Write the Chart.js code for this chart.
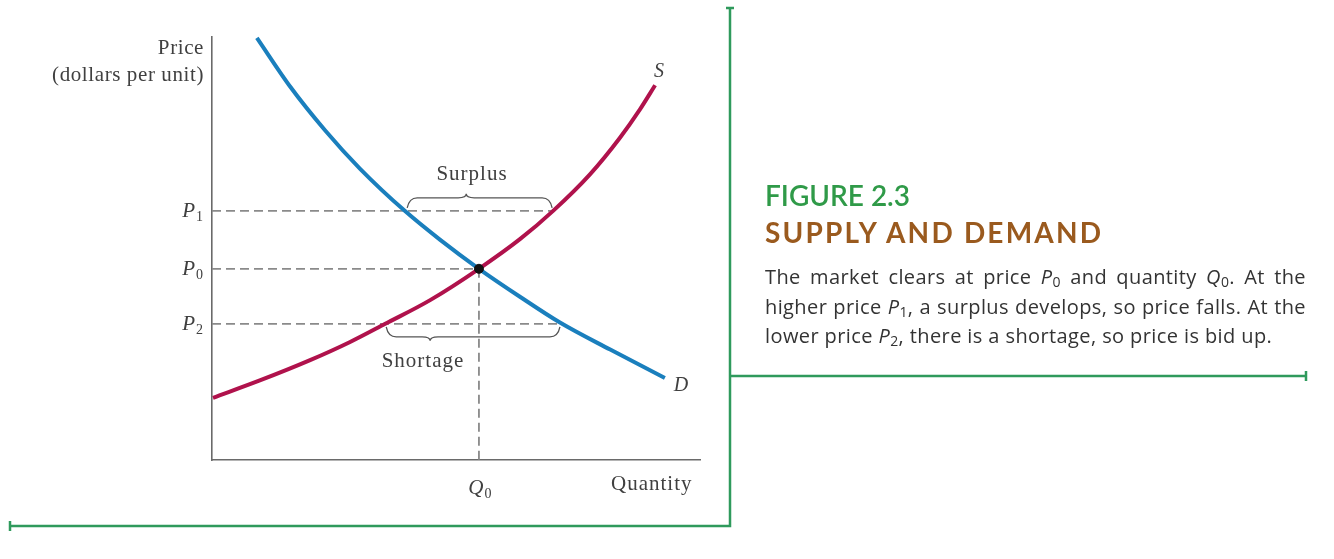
<!DOCTYPE html>
<html lang="en">
<head>
    <meta charset="UTF-8">
    <title>Supply and Demand</title>
    <script src="https://cdn.jsdelivr.net/npm/chart.js@4.4.1/dist/chart.umd.min.js"></script>
    <style>
        body { margin: 0; background: #fff; }
        .wrap { position: relative; width: 1334px; height: 559px; }
        .caption { position: absolute; left: 765px; top: 180px; width: 541px; font-family: Lato, "Open Sans", sans-serif; }
        .fig { color: #2f9a48; font-size: 28px; font-weight: 600; line-height: 31px; }
        .ttl { color: #9a5a1e; font-size: 28px; font-weight: 700; line-height: 31px; letter-spacing: 2.2px; margin-top: 6px; }
        .body { margin-top: 14px; color: #333; font-family: "Open Sans", sans-serif; font-size: 20px; letter-spacing: 0.4px; line-height: 29.5px; }
        .body div { text-align: justify; text-align-last: justify; white-space: nowrap; }
        .body div.last { text-align-last: left; }
        .body i { font-style: italic; }
        .body sub { font-size: 14px; font-style: normal; vertical-align: -3px; line-height: 0; }
    </style>
</head>
<body>
<div class="wrap">
    <canvas id="myChart"></canvas>
    <div class="caption">
        <div class="fig">FIGURE 2.3</div>
        <div class="ttl">SUPPLY AND DEMAND</div>
        <div class="body">
            <div>The market clears at price <i>P</i><sub>0</sub> and quantity <i>Q</i><sub>0</sub>. At the</div>
            <div>higher price <i>P</i><sub>1</sub>, a surplus develops, so price falls. At the</div>
            <div class="last">lower price <i>P</i><sub>2</sub>, there is a shortage, so price is bid up.</div>
        </div>
    </div>
</div>

<script>
    // curve points (quantity, price)
    var demandQ = [0.92, 1.60, 2.32, 3.03, 3.95, 4.67, 5.47, 6.31, 7.13, 8.16, 9.28];
    var demandP = [9.98, 8.83, 7.79, 6.89, 5.89, 5.21, 4.52, 3.86, 3.25, 2.61, 1.94];
    var supplyQ = [0.02, 0.98, 2.01, 2.83, 3.55, 4.47, 5.47, 6.31, 6.99, 7.75, 8.36, 8.77, 9.08];
    var supplyP = [1.47, 1.88, 2.36, 2.79, 3.22, 3.78, 4.52, 5.22, 5.89, 6.76, 7.62, 8.29, 8.86];

    // price levels and equilibrium quantity
    var priceLevels = [3.22, 4.52, 5.89];        // P2, P0, P1
    var priceSubs = ['2', '0', '1'];
    var Q0 = 5.47;
    var P0 = 4.52;
    // where each dashed price line stops
    var P1end = 6.99, P2end = 7.15;

    // braces: [from, to, tip, price]
    var surplusBrace = [4.00, 6.97, 5.21, 5.89];
    var shortageBrace = [3.57, 7.13, 4.47, 3.22];

    function toXY(xs, ys) {
        return xs.map(function (x, i) { return { x: x, y: ys[i] }; });
    }

    var dash = { borderColor: '#8a8a8a', borderWidth: 1.8, borderDash: [9, 5], pointRadius: 0, showLine: true, tension: 0, clip: false };

    function brace(ctx, xa, xb, xm, y, d) {
        var h1 = 10, tip = 14, r = 8;
        ctx.beginPath();
        ctx.moveTo(xa, y);
        ctx.quadraticCurveTo(xa + 2, y + d * h1, xa + r + 2, y + d * h1);
        ctx.lineTo(xm - r, y + d * h1);
        ctx.quadraticCurveTo(xm, y + d * h1, xm, y + d * tip);
        ctx.quadraticCurveTo(xm, y + d * h1, xm + r, y + d * h1);
        ctx.lineTo(xb - r - 2, y + d * h1);
        ctx.quadraticCurveTo(xb - 2, y + d * h1, xb, y);
        ctx.stroke();
    }

    function sub(ctx, letter, digit, x, y, align) {
        ctx.font = 'italic 21px "Liberation Serif", "DejaVu Serif", serif';
        var w1 = ctx.measureText(letter).width;
        ctx.font = '14px "Liberation Serif", "DejaVu Serif", serif';
        var w2 = ctx.measureText(digit).width;
        var x0 = align === 'right' ? x - w1 - w2 - 1 : x - (w1 + w2 + 1) / 2;
        ctx.textAlign = 'left';
        ctx.font = 'italic 21px "Liberation Serif", "DejaVu Serif", serif';
        ctx.fillText(letter, x0, y);
        ctx.font = '14px "Liberation Serif", "DejaVu Serif", serif';
        ctx.fillText(digit, x0 + w1 + 1, y + 4);
    }

    // labels, braces and the green frame
    var extras = {
        id: 'extras',
        afterDatasetsDraw: function (chart) {
            var ctx = chart.ctx, xs = chart.scales.x, ys = chart.scales.y;
            ctx.save();

            ctx.strokeStyle = '#555';
            ctx.lineWidth = 1.3;
            brace(ctx, xs.getPixelForValue(surplusBrace[0]), xs.getPixelForValue(surplusBrace[1]),
                xs.getPixelForValue(surplusBrace[2]), ys.getPixelForValue(surplusBrace[3]) - 3, -1);
            brace(ctx, xs.getPixelForValue(shortageBrace[0]), xs.getPixelForValue(shortageBrace[1]),
                xs.getPixelForValue(shortageBrace[2]), ys.getPixelForValue(shortageBrace[3]) + 3, 1);

            ctx.fillStyle = '#404040';
            ctx.textBaseline = 'alphabetic';
            ctx.letterSpacing = '0.6px';
            ctx.font = '21px "Liberation Serif", "DejaVu Serif", serif';
            ctx.textAlign = 'right';
            ctx.fillText('Price', 204, 54);
            ctx.fillText('(dollars per unit)', 204, 81);
            ctx.letterSpacing = '1px';
            ctx.textAlign = 'center';
            ctx.fillText('Surplus', 472, 180);
            ctx.fillText('Shortage', 423, 367);
            ctx.textAlign = 'left';
            ctx.fillText('Quantity', 611, 490);
            ctx.letterSpacing = '0px';

            // price and quantity marks
            priceLevels.forEach(function (v, i) {
                sub(ctx, 'P', priceSubs[i], 203, ys.getPixelForValue(v) + 6, 'right');
            });
            sub(ctx, 'Q', '0', xs.getPixelForValue(Q0) + 1, 494, 'center');

            ctx.font = 'italic 20px "Liberation Serif", "DejaVu Serif", serif';
            ctx.textAlign = 'center';
            ctx.fillText('S', 659, 77);
            ctx.fillText('D', 681, 391);

            // green frame
            ctx.strokeStyle = '#2f9a5c';
            ctx.lineWidth = 2.5;
            ctx.beginPath();
            ctx.moveTo(730, 8); ctx.lineTo(730, 526); ctx.lineTo(10, 526);
            ctx.moveTo(730, 376); ctx.lineTo(1306, 376);
            ctx.moveTo(726, 8); ctx.lineTo(734, 8);
            ctx.moveTo(10, 521); ctx.lineTo(10, 531);
            ctx.moveTo(1306, 371); ctx.lineTo(1306, 381);
            ctx.stroke();
            ctx.restore();
        }
    };

    var ctx = document.getElementById('myChart').getContext('2d');
    var chart = new Chart(ctx, {
        type: 'scatter',
        data: {
            datasets: [
                {
                    data: [{ x: Q0, y: P0 }],
                    pointRadius: 4.5,
                    backgroundColor: '#111',
                    borderColor: '#111',
                    clip: false
                },
                {
                    label: 'D',
                    data: toXY(demandQ, demandP),
                    showLine: true,
                    borderColor: '#1a7fbd',
                    borderWidth: 4,
                    pointRadius: 0,
                    cubicInterpolationMode: 'monotone',
                    clip: false
                },
                {
                    label: 'S',
                    data: toXY(supplyQ, supplyP),
                    showLine: true,
                    borderColor: '#b0124c',
                    borderWidth: 4,
                    pointRadius: 0,
                    cubicInterpolationMode: 'monotone',
                    clip: false
                },
                Object.assign({ data: [{ x: 0, y: priceLevels[2] }, { x: P1end, y: priceLevels[2] }] }, dash),
                Object.assign({ data: [{ x: 0, y: P0 }, { x: Q0, y: P0 }] }, dash),
                Object.assign({ data: [{ x: 0, y: priceLevels[0] }, { x: P2end, y: priceLevels[0] }] }, dash),
                Object.assign({ data: [{ x: Q0, y: P0 }, { x: Q0, y: 0 }] }, dash)
            ]
        },
        options: {
            responsive: true,
            maintainAspectRatio: false,
            animation: false,
            events: [],
            layout: { padding: { top: 37, right: 634, bottom: 0, left: 0 } },
            plugins: { legend: { display: false }, tooltip: { enabled: false } },
            scales: {
                x: {
                    type: 'linear', min: 0, max: 10,
                    grid: { display: false, drawTicks: false },
                    border: { color: '#6a6a6a', width: 1.6 },
                    afterBuildTicks: function (s) { s.ticks = [{ value: Q0 }]; },
                    afterFit: function (s) { s.height = 99; },
                    ticks: { display: false }
                },
                y: {
                    type: 'linear', min: 0, max: 10,
                    grid: { display: false, drawTicks: false },
                    border: { color: '#6a6a6a', width: 1.6 },
                    afterBuildTicks: function (s) {
                        s.ticks = priceLevels.map(function (v) { return { value: v }; });
                    },
                    afterFit: function (s) { s.width = 212; },
                    ticks: { display: false }
                }
            }
        },
        plugins: [extras]
    });
</script>
</body>
</html>
